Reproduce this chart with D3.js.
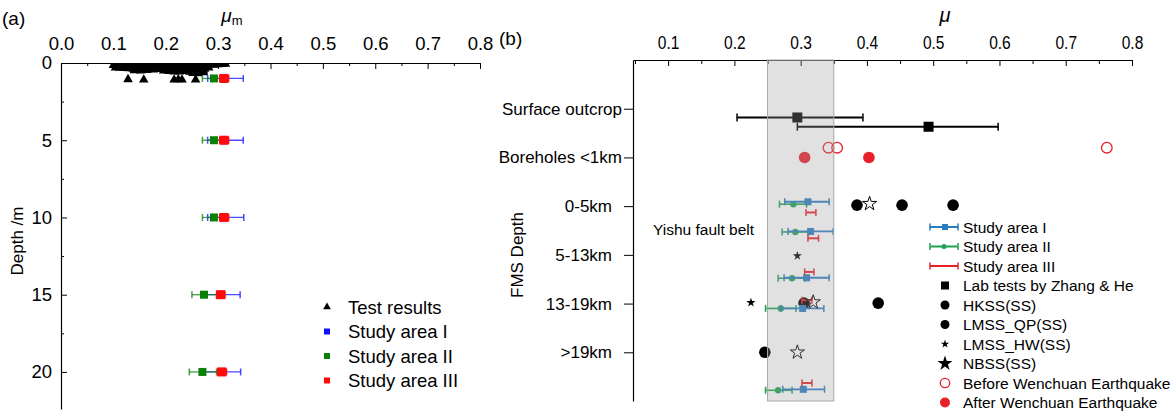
<!DOCTYPE html>
<html>
<head>
<meta charset="utf-8">
<script src="https://cdn.jsdelivr.net/npm/d3@7"></script>
<style>
  body { margin: 0; background: #fff; }
  svg { font-family: "Liberation Sans", Arial, Helvetica, sans-serif; }
</style>
</head>
<body>
<svg id="chart" width="1174" height="411"></svg>
<script>
// ---------- Panel (a): friction coefficient vs. depth ----------
const depthA = [1, 5, 10, 15, 20];
const area1Mean = [0.312, 0.312, 0.312, 0.305, 0.307];
const area1Lo   = [0.280, 0.280, 0.280, 0.275, 0.275];
const area1Hi   = [0.348, 0.348, 0.349, 0.342, 0.343];
const area2Mean = [0.292, 0.292, 0.292, 0.273, 0.270];
const area2Lo   = [0.270, 0.270, 0.270, 0.250, 0.245];
const area2Hi   = [0.312, 0.312, 0.312, 0.298, 0.297];
const area3Mean = [0.311, 0.311, 0.311, 0.305, 0.307];
const area3Lo   = [0.303, 0.303, 0.303, 0.297, 0.299];
const area3Hi   = [0.320, 0.320, 0.320, 0.313, 0.316];

// laboratory test results (shallow samples)
const testMu = [
  0.100, 0.108, 0.116, 0.124, 0.132, 0.140, 0.148, 0.156, 0.164, 0.172, 0.180,
  0.188, 0.196, 0.204, 0.212, 0.220, 0.228, 0.236, 0.244, 0.252, 0.260, 0.268,
  0.276, 0.284, 0.292, 0.300, 0.308, 0.314,
  0.104, 0.112, 0.122, 0.130, 0.138, 0.146, 0.154, 0.162, 0.170, 0.178, 0.186,
  0.194, 0.202, 0.210, 0.218, 0.226, 0.234, 0.242, 0.250, 0.258, 0.266, 0.274, 0.282,
  0.140, 0.152, 0.164, 0.176, 0.196, 0.206, 0.216, 0.226, 0.236, 0.246, 0.256, 0.264, 0.272,
  0.252, 0.262, 0.272,
  0.128, 0.158, 0.216, 0.224, 0.231, 0.257
];
const testDepth = [
  0.15, 0.12, 0.15, 0.12, 0.15, 0.12, 0.15, 0.12, 0.15, 0.12, 0.15,
  0.12, 0.15, 0.12, 0.15, 0.12, 0.15, 0.12, 0.15, 0.12, 0.15, 0.12,
  0.15, 0.12, 0.12, 0.10, 0.08, 0.06,
  0.30, 0.32, 0.34, 0.36, 0.38, 0.36, 0.38, 0.36, 0.34, 0.36, 0.38,
  0.40, 0.42, 0.40, 0.42, 0.44, 0.42, 0.44, 0.46, 0.44, 0.42, 0.38, 0.30,
  0.48, 0.50, 0.46, 0.44, 0.50, 0.54, 0.56, 0.56, 0.54, 0.58, 0.58, 0.54, 0.50,
  0.66, 0.68, 0.62,
  1.06, 1.08, 1.08, 1.06, 1.08, 1.08
];
const muTicksA = [0, 0.1, 0.2, 0.3, 0.4, 0.5, 0.6, 0.7, 0.8];
const muMinorA = [0.05, 0.15, 0.25, 0.35, 0.45, 0.55, 0.65, 0.75];
const depthTicksA = [0, 5, 10, 15, 20];
const depthMinorA = [2.5, 7.5, 12.5, 17.5];
const legendA = ["Test results", "Study area I", "Study area II", "Study area III"];

// ---------- Panel (b): friction coefficient by data source / FMS depth ----------
const categoriesB = ["Surface outcrop", "Boreholes <1km", "0-5km", "5-13km", "13-19km", ">19km"];
const muTicksB = [0.1, 0.2, 0.3, 0.4, 0.5, 0.6, 0.7, 0.8];
const muMinorB = [0.05, 0.15, 0.25, 0.35, 0.45, 0.55, 0.65, 0.75];
const bandB = [0.25, 0.35];

const labMu  = [0.295, 0.493];
const labLo  = [0.204, 0.295];
const labHi  = [0.394, 0.598];
const labPos = [1.18, 1.37];

const beforeMu  = [0.342, 0.355, 0.762];
const beforePos = [1.80, 1.80, 1.80];
const afterMu   = [0.306, 0.403];
const afterPos  = [2.00, 2.00];

const hkssMu   = [0.385, 0.530, 0.417];
const hkssPos  = [2.98, 2.98, 4.99];
const lmqpMu   = [0.453, 0.305, 0.246];
const lmqpPos  = [2.98, 4.99, 6.00];
const lmhwMu   = [0.295, 0.225];
const lmhwPos  = [4.02, 4.98];
const nbssMu   = [0.404, 0.319, 0.295];
const nbssPos  = [2.95, 4.97, 6.00];

const sa1Mu  = [0.311, 0.315, 0.309, 0.303, 0.304];
const sa1Lo  = [0.276, 0.281, 0.275, 0.270, 0.273];
const sa1Hi  = [0.343, 0.349, 0.343, 0.335, 0.336];
const sa1Pos = [2.91, 3.52, 4.47, 5.10, 6.76];
const sa2Mu  = [0.289, 0.292, 0.287, 0.270, 0.266];
const sa2Lo  = [0.268, 0.272, 0.266, 0.247, 0.247];
const sa2Hi  = [0.309, 0.312, 0.307, 0.293, 0.287];
const sa2Pos = [2.96, 3.53, 4.48, 5.10, 6.78];
const sa3Lo  = [0.308, 0.311, 0.306, 0.302, 0.302];
const sa3Hi  = [0.323, 0.327, 0.320, 0.317, 0.317];
const sa3Pos = [3.13, 3.66, 4.35, 4.93, 6.63];

const legendB = ["Study area I", "Study area II", "Study area III", "Lab tests by Zhang & He",
  "HKSS(SS)", "LMSS_QP(SS)", "LMSS_HW(SS)", "NBSS(SS)",
  "Before Wenchuan Earthquake", "After Wenchuan Earthquake"];

// ---------- drawing ----------
const svg = d3.select("#chart");
const zip = (...arrs) => arrs[0].map((_, i) => arrs.map(a => a[i]));

// ===== Panel (a) =====
const xA = d3.scaleLinear().domain([0, 0.8]).range([61, 480]);
const yA = d3.scaleLinear().domain([0, 22.4]).range([63, 409]);
const gA = svg.append("g");

svg.append("defs").append("clipPath").attr("id", "clipA")
  .append("rect").attr("x", xA(0)).attr("y", yA(0))
  .attr("width", xA(0.8) - xA(0)).attr("height", yA(22.4) - yA(0));

const topA = gA.append("g").attr("transform", `translate(0,${yA(0)})`)
  .call(d3.axisTop(xA).tickValues(muTicksA).tickSize(-6).tickSizeOuter(0)
    .tickPadding(13).tickFormat(d3.format(".1f")));
gA.append("g").attr("transform", `translate(0,${yA(0)})`)
  .call(d3.axisTop(xA).tickValues(muMinorA).tickSize(-3).tickFormat(""))
  .select(".domain").remove();
const leftA = gA.append("g").attr("transform", `translate(${xA(0)},0)`)
  .call(d3.axisLeft(yA).tickValues(depthTicksA).tickSize(-6).tickSizeOuter(0)
    .tickPadding(9).tickFormat(d3.format("d")));
gA.append("g").attr("transform", `translate(${xA(0)},0)`)
  .call(d3.axisLeft(yA).tickValues(depthMinorA).tickSize(-3).tickFormat(""))
  .select(".domain").remove();
[topA, leftA].forEach(g => {
  g.selectAll("text").attr("font-size", 18.5).attr("fill", "#000");
  g.select(".domain").attr("stroke", "#000").attr("stroke-width", 1.2);
});
gA.selectAll(".tick line").attr("stroke", "#000").attr("stroke-width", 1);
leftA.selectAll(".tick").filter(d => d === 0).select("line").remove();

// axis titles
const muTitleA = gA.append("text").attr("x", 232).attr("y", 22)
  .attr("text-anchor", "middle").attr("font-size", 19);
muTitleA.append("tspan").attr("font-style", "italic").text("μ");
muTitleA.append("tspan").attr("font-size", 13).attr("dy", 3).text("m");
gA.append("text").attr("transform", "translate(23,241) rotate(-90)")
  .attr("text-anchor", "middle").attr("font-size", 17).text("Depth /m");
gA.append("text").attr("x", 2).attr("y", 25).attr("font-size", 19).text("(a)");

// test results
const tri = d3.symbol().type(d3.symbolTriangle).size(40);
gA.append("g").attr("clip-path", "url(#clipA)")
  .selectAll("path").data(zip(testMu, testDepth)).join("path")
  .attr("d", tri)
  .attr("transform", d => `translate(${xA(d[0])},${yA(d[1])})`)
  .attr("fill", "#000");

// study areas with error bars
function seriesA(means, lo, hi, color, size, barOpacity) {
  const g = gA.append("g");
  const rows = zip(means, lo, hi, depthA);
  g.selectAll("line.bar").data(rows).join("line").attr("class", "bar")
    .attr("x1", d => xA(d[1])).attr("x2", d => xA(d[2]))
    .attr("y1", d => yA(d[3])).attr("y2", d => yA(d[3]))
    .attr("stroke", color).attr("stroke-width", 1.3).attr("opacity", barOpacity);
  ["lo", "hi"].forEach((k, j) => {
    g.selectAll("line.cap" + k).data(rows).join("line").attr("class", "cap" + k)
      .attr("x1", d => xA(d[1 + j])).attr("x2", d => xA(d[1 + j]))
      .attr("y1", d => yA(d[3]) - 3.5).attr("y2", d => yA(d[3]) + 3.5)
      .attr("stroke", color).attr("stroke-width", 1.5).attr("opacity", barOpacity);
  });
  g.selectAll("rect").data(rows).join("rect")
    .attr("x", d => xA(d[0]) - size / 2).attr("y", d => yA(d[3]) - size / 2)
    .attr("width", size).attr("height", size).attr("fill", color);
}
seriesA(area1Mean, area1Lo, area1Hi, "#1010ff", 8, 0.75);
seriesA(area2Mean, area2Lo, area2Hi, "#0a800a", 8, 0.75);
seriesA(area3Mean, area3Lo, area3Hi, "#ff0a0a", 9, 1);

// legend (a)
const legA = gA.append("g");
const legAy = [307, 331.5, 356, 380.5];
const legAcol = ["#000", "#1010ff", "#0a800a", "#ff0a0a"];
legendA.forEach((t, i) => {
  if (i === 0) {
    legA.append("path").attr("d", d3.symbol().type(d3.symbolTriangle).size(26))
      .attr("transform", `translate(327,${legAy[i]})`).attr("fill", "#000");
  } else {
    legA.append("rect").attr("x", 324).attr("y", legAy[i] - 3)
      .attr("width", 6).attr("height", 6).attr("fill", legAcol[i]);
  }
  legA.append("text").attr("x", 348).attr("y", legAy[i] + 6.5)
    .attr("font-size", 18.5).text(t);
});

// ===== Panel (b) =====
const xB = d3.scaleLinear().domain([0.047, 0.8]).range([633, 1132]);
const yB = d3.scaleLinear().domain([0, 7]).range([60, 401]);
const gB = svg.append("g");

const topB = gB.append("g").attr("transform", `translate(0,${yB(0)})`)
  .call(d3.axisTop(xB).tickValues(muTicksB).tickSize(-6).tickSizeOuter(0)
    .tickPadding(11).tickFormat(d3.format(".1f")));
gB.append("g").attr("transform", `translate(0,${yB(0)})`)
  .call(d3.axisTop(xB).tickValues(muMinorB).tickSize(-4).tickFormat(""))
  .select(".domain").remove();
const leftB = gB.append("g").attr("transform", `translate(${xB(0.047)},0)`)
  .call(d3.axisLeft(yB).tickValues([1, 2, 3, 4, 5, 6]).tickSize(9).tickSizeOuter(0)
    .tickPadding(2).tickFormat(d => categoriesB[d - 1]));
// condensed tick numerals on the top axis
topB.selectAll("text").attr("font-size", 18.5).attr("fill", "#000")
  .attr("transform", "scale(0.84,1)");
leftB.selectAll("text").attr("font-size", 17).attr("fill", "#000")
  .attr("x", d => d >= 3 ? -21 : -11);
[topB, leftB].forEach(g => g.select(".domain").attr("stroke", "#000").attr("stroke-width", 1.2));
gB.selectAll(".tick line").attr("stroke", "#000").attr("stroke-width", 1);

gB.append("text").attr("x", 945).attr("y", 22)
  .attr("text-anchor", "middle").attr("font-size", 20).attr("font-style", "italic").text("μ");
gB.append("text").attr("transform", "translate(523,255) rotate(-90)")
  .attr("text-anchor", "middle").attr("font-size", 17).text("FMS Depth");
gB.append("text").attr("x", 499).attr("y", 45).attr("font-size", 19).text("(b)");
gB.append("text").attr("x", 653).attr("y", 235).attr("font-size", 15.5).text("Yishu fault belt");

const blue = "#2a7cc0", green = "#1ea34e", red = "#e8202a";

function errBars(g, lo, hi, pos, color, width, capH) {
  const rows = zip(lo, hi, pos);
  g.selectAll(null).data(rows).join("line")
    .attr("x1", d => xB(d[0])).attr("x2", d => xB(d[1]))
    .attr("y1", d => yB(d[2])).attr("y2", d => yB(d[2]))
    .attr("stroke", color).attr("stroke-width", width);
  [0, 1].forEach(j => {
    g.selectAll(null).data(rows).join("line")
      .attr("x1", d => xB(d[j])).attr("x2", d => xB(d[j]))
      .attr("y1", d => yB(d[2]) - capH / 2).attr("y2", d => yB(d[2]) + capH / 2)
      .attr("stroke", color).attr("stroke-width", 1.5);
  });
}
const marks = gB.append("g");

// lab tests
errBars(marks.append("g"), labLo, labHi, labPos, "#000", 2.2, 8);
marks.append("g").selectAll("rect").data(zip(labMu, labPos)).join("rect")
  .attr("x", d => xB(d[0]) - 5).attr("y", d => yB(d[1]) - 5)
  .attr("width", 10).attr("height", 10).attr("fill", "#000");

// boreholes
marks.append("g").selectAll("circle").data(zip(beforeMu, beforePos)).join("circle")
  .attr("cx", d => xB(d[0])).attr("cy", d => yB(d[1])).attr("r", 5.3)
  .attr("fill", "none").attr("stroke", red).attr("stroke-width", 1.3);
marks.append("g").selectAll("circle").data(zip(afterMu, afterPos)).join("circle")
  .attr("cx", d => xB(d[0])).attr("cy", d => yB(d[1])).attr("r", 5.8)
  .attr("fill", red);

// focal mechanism inversions
const circ = (mu, pos) => marks.append("g").selectAll("circle").data(zip(mu, pos)).join("circle")
  .attr("cx", d => xB(d[0])).attr("cy", d => yB(d[1])).attr("r", 5.8).attr("fill", "#000");
circ(hkssMu, hkssPos);
circ(lmqpMu, lmqpPos);
marks.append("g").selectAll("path").data(zip(lmhwMu, lmhwPos)).join("path")
  .attr("d", d3.symbol().type(d3.symbolStar).size(26))
  .attr("transform", d => `translate(${xB(d[0])},${yB(d[1])})`).attr("fill", "#000");

// study areas
const saG = marks.append("g");
errBars(saG.append("g"), sa2Lo, sa2Hi, sa2Pos, green, 1.6, 7);
saG.append("g").selectAll("circle").data(zip(sa2Mu, sa2Pos)).join("circle")
  .attr("cx", d => xB(d[0])).attr("cy", d => yB(d[1])).attr("r", 3.2).attr("fill", green);
errBars(saG.append("g"), sa1Lo, sa1Hi, sa1Pos, blue, 1.8, 7);
saG.append("g").selectAll("rect").data(zip(sa1Mu, sa1Pos)).join("rect")
  .attr("x", d => xB(d[0]) - 3.5).attr("y", d => yB(d[1]) - 3.5)
  .attr("width", 7).attr("height", 7).attr("fill", blue);
errBars(saG.append("g"), sa3Lo, sa3Hi, sa3Pos, red, 2, 7);

marks.append("g").selectAll("path").data(zip(nbssMu, nbssPos)).join("path")
  .attr("d", d3.symbol().type(d3.symbolStar).size(62))
  .attr("transform", d => `translate(${xB(d[0])},${yB(d[1])})`)
  .attr("fill", "none").attr("stroke", "#000").attr("stroke-width", 1);

// typical-friction band, drawn over the marks as a translucent veil
gB.append("rect").attr("x", xB(bandB[0])).attr("y", yB(0))
  .attr("width", xB(bandB[1]) - xB(bandB[0])).attr("height", yB(7) - yB(0))
  .attr("fill", "#9f9f9f").attr("fill-opacity", 0.31)
  .attr("stroke", "#a8a8a8").attr("stroke-width", 1);

// legend (b)
const legB = gB.append("g");
const lbX = 945, lbY0 = 227, lbDy = 19.5;
legendB.forEach((t, i) => {
  const y = lbY0 + i * lbDy;
  const g = legB.append("g");
  if (i < 3) {
    const c = [blue, green, red][i];
    g.append("line").attr("x1", lbX - 15).attr("x2", lbX + 13).attr("y1", y).attr("y2", y)
      .attr("stroke", c).attr("stroke-width", 2);
    [lbX - 15, lbX + 13].forEach(x => g.append("line").attr("x1", x).attr("x2", x)
      .attr("y1", y - 3.5).attr("y2", y + 3.5).attr("stroke", c).attr("stroke-width", 1.5));
    if (i === 0) g.append("rect").attr("x", lbX - 3).attr("y", y - 3).attr("width", 6).attr("height", 6).attr("fill", c);
    if (i === 1) g.append("circle").attr("cx", lbX - 1).attr("cy", y).attr("r", 2.5).attr("fill", c);
  } else if (i === 3) {
    g.append("rect").attr("x", lbX - 4).attr("y", y - 4).attr("width", 8).attr("height", 8).attr("fill", "#000");
  } else if (i === 4 || i === 5) {
    g.append("circle").attr("cx", lbX).attr("cy", y).attr("r", 4.5).attr("fill", "#000");
  } else if (i === 6) {
    g.append("path").attr("d", d3.symbol().type(d3.symbolStar).size(22))
      .attr("transform", `translate(${lbX},${y})`).attr("fill", "#000");
  } else if (i === 7) {
    g.append("path").attr("d", d3.symbol().type(d3.symbolStar).size(70))
      .attr("transform", `translate(${lbX},${y})`).attr("fill", "#000");
  } else if (i === 8) {
    g.append("circle").attr("cx", lbX).attr("cy", y).attr("r", 4.7)
      .attr("fill", "none").attr("stroke", red).attr("stroke-width", 1.3);
  } else {
    g.append("circle").attr("cx", lbX).attr("cy", y).attr("r", 5).attr("fill", red);
  }
  g.append("text").attr("x", 963).attr("y", y + 5.5).attr("font-size", 15.5).text(t);
});
</script>
</body>
</html>
